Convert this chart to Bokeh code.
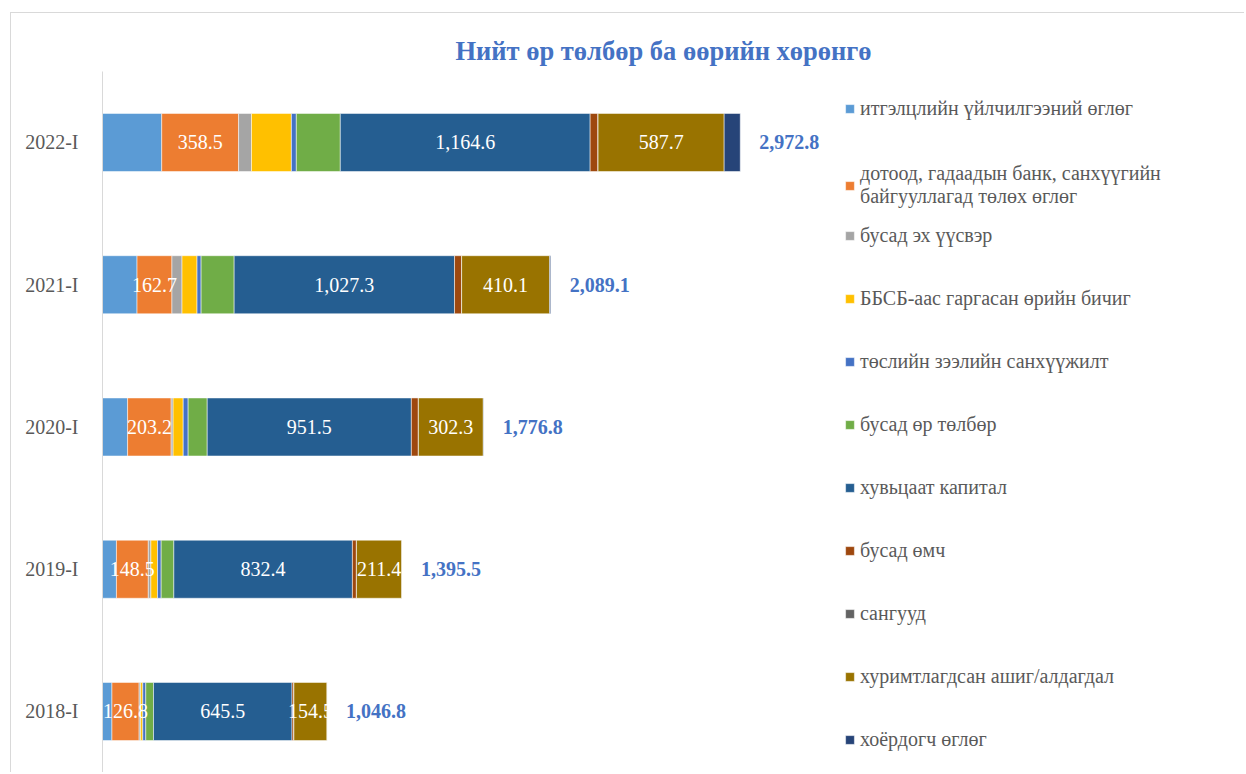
from bokeh.plotting import figure
from bokeh.models import (Range1d, FixedTicker, Legend, LegendItem, ColumnDataSource, Title)
from bokeh.core.properties import value
from bokeh.embed import file_html
from bokeh.resources import INLINE

categories = ["2018-I", "2019-I", "2020-I", "2021-I", "2022-I"]

series_names = [
    "итгэлцлийн үйлчилгээний өглөг",
    "дотоод, гадаадын банк, санхүүгийн\nбайгууллагад төлөх өглөг",
    "бусад эх үүсвэр",
    "ББСБ-аас гаргасан өрийн бичиг",
    "төслийн зээлийн санхүүжилт",
    "бусад өр төлбөр",
    "хувьцаат капитал",
    "бусад өмч",
    "сангууд",
    "хуримтлагдсан ашиг/алдагдал",
    "хоёрдогч өглөг",
]

trust_payable = [44, 65, 117, 161, 276]
bank_payable = [126.8, 148.5, 203.2, 162.7, 358.5]
other_sources = [7, 12, 9, 47, 60]
nbfi_notes = [10, 31, 47, 70, 186]
project_loans = [14, 17, 23, 19, 23]
other_liabilities = [36, 59, 89, 154, 205]
share_capital = [645.5, 832.4, 951.5, 1027.3, 1164.6]
other_equity = [8.5, 18.5, 32.5, 32.5, 36.5]
funds = [0.5, 0.5, 0.5, 0.5, 0.5]
retained_earnings = [154.5, 211.4, 302.3, 410.1, 587.7]
subordinated = [0, 0.2, 1.8, 5, 75]
totals = [1046.8, 1395.5, 1776.8, 2089.1, 2972.8]

series_values = [trust_payable, bank_payable, other_sources, nbfi_notes, project_loans,
                 other_liabilities, share_capital, other_equity, funds,
                 retained_earnings, subordinated]
colors = ["#5B9BD5", "#ED7D31", "#A5A5A5", "#FFC000", "#4472C4", "#70AD47",
          "#255E91", "#9E480E", "#636363", "#997300", "#264478"]
labelled = [1, 6, 9]  # series whose values are printed on the bars

FONT = "Liberation Serif"
ypos = list(range(len(categories)))

keys = [f"s{i}" for i in range(len(series_values))]
data = {"y": ypos}
for k, vals in zip(keys, series_values):
    data[k] = vals
source = ColumnDataSource(data)

p = figure(width=1234, height=760, output_backend="svg", toolbar_location=None,
           x_range=Range1d(0, 5230), y_range=Range1d(-0.436, 4.499),
           min_border_left=91, min_border_right=21, min_border_top=58, min_border_bottom=0)
p.styles = {"margin-left": "10px", "margin-top": "12px",
            "border-top": "1px solid #d9d9d9", "border-left": "1px solid #d9d9d9"}

p.title = Title(text="Нийт өр төлбөр ба өөрийн хөрөнгө", align="center",
                text_font=FONT, text_font_size="26.5px", text_font_style="bold",
                text_color="#4472C4", standoff=12)

renderers = p.hbar_stack(keys, y="y", height=0.408, source=source, color=colors,
                         line_color="white", line_width=0.5)

# segment labels
lx, ly, lt = [], [], []
for j in range(len(categories)):
    left = 0.0
    for i, vals in enumerate(series_values):
        if i in labelled:
            lx.append(left + vals[j] / 2)
            ly.append(ypos[j])
            lt.append(f"{vals[j]:,.1f}")
        left += vals[j]
p.text(x=lx, y=ly, text=lt, text_align="center", text_baseline="middle",
       text_color="white", text_font=value(FONT), text_font_size="20px")

# totals
p.text(x=totals, y=ypos, text=[f"{t:,.1f}" for t in totals], x_offset=19,
       text_align="left", text_baseline="middle", text_color="#4472C4",
       text_font=value(FONT), text_font_size="20px", text_font_style="bold")

p.xaxis.visible = False
p.xgrid.visible = False
p.ygrid.visible = False
p.outline_line_color = None

ax = p.yaxis[0]
ax.ticker = FixedTicker(ticks=ypos)
ax.major_label_overrides = {i: c for i, c in zip(ypos, categories)}
ax.major_tick_line_color = None
ax.minor_tick_line_color = None
ax.axis_line_color = "#d9d9d9"
ax.major_label_standoff = 18
ax.major_label_text_font = FONT
ax.major_label_text_font_size = "20px"
ax.major_label_text_color = "#595959"

legend_style = dict(padding=0, margin=0, glyph_width=11, glyph_height=11,
                    label_standoff=5, label_height=24, label_text_font=FONT,
                    label_text_font_size="20px", label_text_color="#595959",
                    label_text_line_height=1.3,
                    background_fill_alpha=0, border_line_color=None)
items = [LegendItem(label=n, renderers=[r]) for n, r in zip(series_names, renderers)]
legend_a = Legend(items=items[:2], location=(742, 565), spacing=42, **legend_style)
legend_b = Legend(items=items[2:], location=(742, 22), spacing=39, **legend_style)
p.add_layout(legend_a)
p.add_layout(legend_b)

open("out.html", "w").write(file_html(p, INLINE))
